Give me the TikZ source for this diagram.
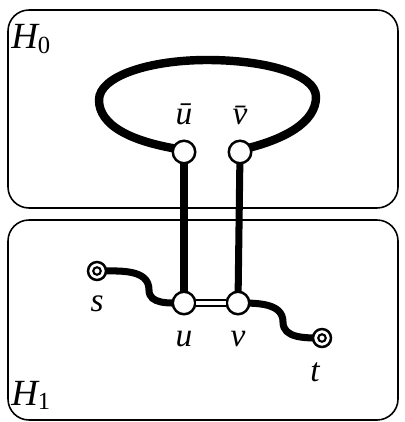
\documentclass[tikz,border=0pt]{standalone}
\usepackage{fontspec}
\setmainfont{Liberation Serif}
\usetikzlibrary{positioning}
\tikzset{
  panel/.style={draw=black, line width=0.9pt, rounded corners=0.42cm},
  port/.style={circle, draw=black, fill=white, line width=1.4pt,
    minimum size=0.45cm, inner sep=0pt},
  terminal/.style={circle, draw=black, fill=white, line width=1.4pt,
    minimum size=0.36cm, inner sep=0pt,
    path picture={\draw[line width=1.2pt] (path picture bounding box.center) circle (0.075cm);}},
  cycle/.style={line width=4.8pt},
  link/.style={line width=4pt},
  walk/.style={line width=4pt},
  pair/.style={double=white, double distance=2.4pt, line width=1pt},
  tag/.style={font=\fontsize{19}{20}\selectfont\itshape, inner sep=0pt},
  halftag/.style={font=\fontsize{21}{22}\selectfont\itshape, inner sep=0pt}
}
\begin{document}
\begin{tikzpicture}[x=0.02cm, y=-0.02cm]
    \useasboundingbox (0,0) rectangle (405,422);
    % the two halves
    \draw[panel] (8,10) rectangle (398,208);
    \draw[panel] (8,220) rectangle (398,420);
    \node[halftag, anchor=base west] (h0) at (11,49) {H\raisebox{-0.25ex}{\upshape\fontsize{14}{14}\selectfont 0}};
    \node[halftag, anchor=base west] (h1) at (11,405) {H\raisebox{-0.25ex}{\upshape\fontsize{14}{14}\selectfont 1}};
    % outer loop and the two walks
    \coordinate (left) at (99,100);
    \coordinate (top) at (207,60);
    \coordinate (right) at (316,97);
    \coordinate (sbend) at (149,290);
    \coordinate (tbend) at (283,322);
    \draw[cycle] (184,150) .. controls (130,142) and (99,125) .. (left)
      .. controls (99,76) and (150,60) .. (top)
      .. controls (265,60) and (316,74) .. (right)
      .. controls (316,122) and (285,140) .. (240,150);
    \draw[link] (184,152) -- (184,303);
    \draw[link] (240,152) -- (238,303);
    \draw[walk] (97,271) to[out=0,in=90] (sbend) to[out=270,in=180] (184,303);
    \draw[walk] (238,303) to[out=0,in=90] (tbend) to[out=270,in=180] (322,338);
    \node[port, label={[tag, label distance=8pt]above:\=u}] (ub) at (184,152) {};
    \node[port, label={[tag, label distance=8pt]above:\=v}] (vb) at (240,152) {};
    \node[port, label={[tag, label distance=9pt]below:u}] (u) at (184,303) {};
    \node[port, label={[tag, label distance=9pt]below:v}] (v) at (238,303) {};
    \draw[pair] (u) -- (v);
    \node[terminal, label={[tag, label distance=8pt]below:s}] (s) at (97,271) {};
    \node[terminal, label={[tag, label distance=8pt, xshift=-4pt]below:t}] (t) at (322,338) {};
\end{tikzpicture}
\end{document}
